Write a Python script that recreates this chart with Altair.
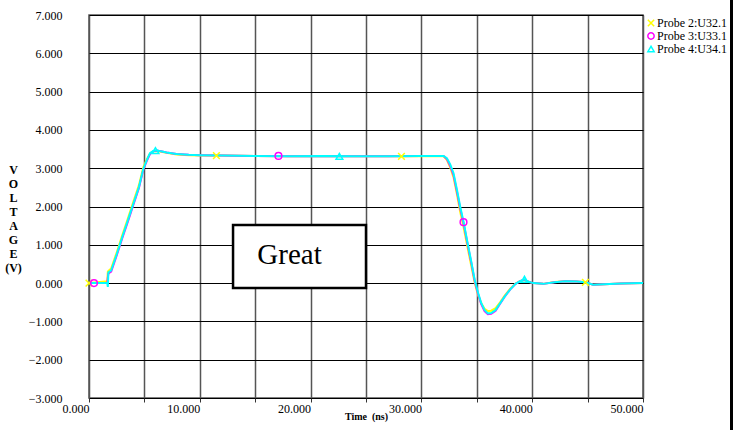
import altair as alt
import pandas as pd

FONT = "Liberation Serif"

probes = ["Probe 2:U32.1", "Probe 3:U33.1", "Probe 4:U34.1"]
colors = ["#ffff00", "#ff00ff", "#00ffff"]
shapes = ["M-1,-1L1,1M1,-1L-1,1", "circle", "triangle-up"]

t_ns = [0, 1.65, 1.7, 1.75, 2.0, 2.5, 3.0, 3.5, 4.0, 4.5, 4.9, 5.2, 5.5, 5.8, 6.1,
        6.5, 7.0, 7.9, 9.0, 10.0, 12.0, 15.0, 18.0, 21.0, 24.0, 27.0, 30.0, 32.0, 32.3, 32.6,
        32.9, 33.2, 33.5, 33.8, 34.2, 34.5, 34.8, 35.1, 35.4, 35.7, 36.0, 36.3, 36.7, 37.1, 37.5,
        38.0, 38.5, 38.9, 39.3, 39.6, 40.1, 41.0, 42.0, 43.0, 44.0, 44.8, 45.5, 46.5, 48.0, 50.0]

v_probe2 = [0, 0.05, 0.3, 0.32, 0.38, 0.8, 1.25, 1.68, 2.12, 2.55, 3.02, 3.22, 3.38, 3.44, 3.45,
            3.43, 3.40, 3.36, 3.34, 3.33, 3.33, 3.32, 3.31, 3.31, 3.31, 3.31, 3.31, 3.31, 3.22, 3.02,
            2.76, 2.33, 1.86, 1.47, 0.88, 0.45, 0.02, -0.3, -0.53, -0.67, -0.73, -0.72, -0.65, -0.5, -0.33,
            -0.15, -0.01, 0.05, 0.08, 0.04, 0.0, -0.02, 0.03, 0.05, 0.04, 0.02, -0.04, -0.03, -0.01, 0.0]

v_probe3 = [0, 0, 0.15, 0.25, 0.3, 0.72, 1.17, 1.6, 2.04, 2.48, 2.96, 3.18, 3.37, 3.44, 3.46,
            3.44, 3.41, 3.37, 3.35, 3.34, 3.33, 3.32, 3.31, 3.31, 3.31, 3.31, 3.32, 3.32, 3.24, 3.06,
            2.82, 2.4, 1.95, 1.57, 0.97, 0.53, 0.07, -0.27, -0.55, -0.73, -0.81, -0.8, -0.72, -0.54, -0.36,
            -0.17, -0.02, 0.05, 0.09, 0.04, 0.0, -0.02, 0.02, 0.05, 0.04, 0.02, -0.04, -0.03, -0.01, 0.0]

v_probe4 = [0, 0, -0.1, 0.28, 0.33, 0.75, 1.2, 1.63, 2.07, 2.5, 2.98, 3.2, 3.39, 3.45, 3.47,
            3.44, 3.41, 3.37, 3.35, 3.34, 3.33, 3.32, 3.31, 3.32, 3.31, 3.31, 3.32, 3.32, 3.26, 3.1,
            2.87, 2.45, 2.0, 1.6, 1.0, 0.56, 0.1, -0.24, -0.52, -0.7, -0.79, -0.78, -0.7, -0.53, -0.36,
            -0.17, -0.02, 0.05, 0.1, 0.04, 0.0, -0.02, 0.02, 0.05, 0.04, 0.02, -0.04, -0.03, -0.01, 0.0]

# marker positions
mk_probe = ["Probe 2:U32.1"] * 4 + ["Probe 3:U33.1"] * 3 + ["Probe 4:U34.1"] * 3
mk_t = [0.0, 11.5, 28.2, 44.8, 0.45, 17.1, 33.8, 6.0, 22.6, 39.3]
mk_v = [0.0, 3.33, 3.31, 0.02, 0.0, 3.32, 1.59, 3.46, 3.31, 0.10]

x_ticks = [0, 5, 10, 15, 20, 25, 30, 35, 40, 45, 50]
y_ticks = [-3, -2, -1, 0, 1, 2, 3, 4, 5, 6, 7]

box_x = [13.0, 25.0]
box_y = [-0.13, 1.52]
note_text = "Great"
note_pos = [18.1, 0.5]

series = [v_probe2, v_probe3, v_probe4]
frames = []
for p, vals in zip(probes, series):
    frames.append(pd.DataFrame({"t": t_ns, "v": vals, "probe": p}))

xs = alt.Scale(domain=[0, 50], nice=False, zero=False)
ys = alt.Scale(domain=[-3, 7], nice=False, zero=False)

x_axis = alt.Axis(
    values=x_ticks,
    labelExpr="datum.value % 10 == 0 ? format(datum.value, '.3f') : ''",
    labelAlign="right", labelBaseline="top", labelPadding=1,
    labelFont=FONT, labelFontSize=12, labelColor="black",
    labelOverlap=False, labelFlush=False,
    tickSize=4, tickColor="#333", tickWidth=1,
    domain=False, grid=True, gridColor="#555", gridWidth=1.5,
    title="Time\u00a0 (ns)", titleFont=FONT, titleFontSize=10, titleFontWeight="bold",
    titleColor="black", titleY=21, titleBaseline="alphabetic",
)
y_axis = alt.Axis(
    values=y_ticks, format=".3f",
    labelFont=FONT, labelFontSize=12, labelColor="black", labelPadding=27,
    labelOverlap=False, labelFlush=False,
    ticks=False, domain=False, grid=True, gridColor="#000", gridWidth=1,
    title=["V", "O", "L", "T", "A", "G", "E", "", "(V)"],
    titleAngle=0, titleX=-76, titleY=149.5, titleAlign="center", titleBaseline="top",
    titleFont=FONT, titleFontSize=12, titleFontWeight="bold", titleLineHeight=14,
    titleColor="black",
)


def X(field="t:Q"):
    return alt.X(field, scale=xs, axis=x_axis)


def Y(field="v:Q"):
    return alt.Y(field, scale=ys, axis=y_axis)


layers = []
for i, df in enumerate(frames):
    layers.append(
        alt.Chart(df).mark_line(color=colors[i], strokeWidth=2, interpolate="linear").encode(
            x=X(), y=Y()
        )
    )

mk_df = pd.DataFrame({"t": mk_t, "v": mk_v, "probe": mk_probe})
leg = alt.Legend(
    orient="none", legendX=556, legendY=2, title=None,
    labelFont=FONT, labelFontSize=12, labelColor="black", labelLimit=200,
    symbolSize=40, symbolStrokeWidth=1.5, labelOffset=0, rowPadding=-1, padding=0,
)
points = alt.Chart(mk_df).mark_point(filled=False, strokeWidth=1.5, size=45, opacity=1).encode(
    x=X(),
    y=Y(),
    color=alt.Color("probe:N", scale=alt.Scale(domain=probes, range=colors), legend=leg),
    shape=alt.Shape("probe:N", scale=alt.Scale(domain=probes, range=shapes), legend=leg),
)

box_df = pd.DataFrame({"x": [box_x[0]], "x2": [box_x[1]], "y": [box_y[0]], "y2": [box_y[1]]})
box = alt.Chart(box_df).mark_rect(fill="white", stroke="black", strokeWidth=2.5).encode(
    x=X("x:Q"), x2="x2:Q", y=Y("y:Q"), y2="y2:Q"
)
note_df = pd.DataFrame({"x": [note_pos[0]], "y": [note_pos[1]], "label": [note_text]})
note = alt.Chart(note_df).mark_text(
    font=FONT, fontSize=29, align="center", baseline="alphabetic", color="black"
).encode(x=X("x:Q"), y=Y("y:Q"), text="label:N")

edge = alt.Chart(box_df).mark_rule(color="black", strokeWidth=3).encode(
    x=alt.value(642.5), y=alt.value(-15), y2=alt.value(415)
)

chart = alt.layer(*layers, points, box, note, edge).properties(
    width=554, height=383,
    autosize=alt.AutoSizeParams(type="none"),
    padding={"left": 89, "top": 15, "right": 96, "bottom": 32},
    background="white",
).configure(
    font=FONT,
    view=alt.ViewConfig(stroke="#555", strokeWidth=1.5),
)

chart.save("out.html", embed_options={"renderer": "svg", "actions": False})
